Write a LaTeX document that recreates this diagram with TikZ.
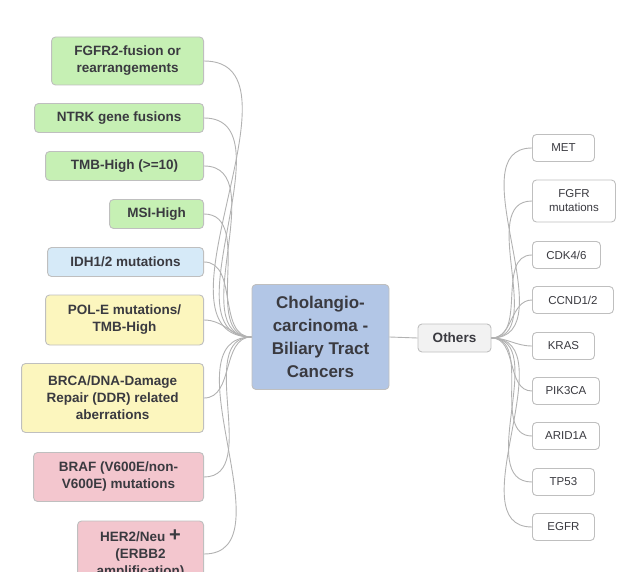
\documentclass[tikz,border=0pt]{standalone}
\usepackage{fontspec}
\setmainfont{Liberation Sans}
\definecolor{gr}{HTML}{C6F0B4}
\definecolor{bl}{HTML}{D6EAF8}
\definecolor{ye}{HTML}{FCF6BE}
\definecolor{pk}{HTML}{F3C6CE}
\definecolor{ce}{HTML}{B2C6E6}
\definecolor{tx}{HTML}{3A3A40}
\begin{document}
\begin{tikzpicture}[x=1pt,y=-1pt,
 box/.style={draw=black!25,line width=0.9pt,rounded corners=4pt,align=center,font=\fontsize{13.5}{17}\selectfont\bfseries\color{tx},inner sep=0pt},
 L/.style={box,anchor=east,minimum height=29pt},
 R/.style={box,anchor=west,fill=white,font=\fontsize{11.5}{14}\selectfont\color{tx},minimum height=27pt},
 con/.style={draw=black!30,line width=0.9pt}]
\useasboundingbox (0,0) rectangle (640,572);
\clip (0,0) rectangle (640,572);
\node[box,fill=ce,minimum width=137pt,minimum height=105pt,font=\fontsize{17}{23}\selectfont\bfseries\color{tx}] (c) at (320.5,337) {Cholangio-\\carcinoma -\\Biliary Tract\\Cancers};
\node[box,fill=gray!10,minimum width=73pt,minimum height=28pt] (o) at (454.5,338) {Others};
\node[L,fill=gr,minimum width=152pt,minimum height=48pt] (l1) at (204,61) {FGFR2-fusion or\\rearrangements};
\node[L,fill=gr,minimum width=169pt] (l2) at (204,118) {NTRK gene fusions};
\node[L,fill=gr,minimum width=158pt] (l3) at (204,166) {TMB-High (>=10)};
\node[L,fill=gr,minimum width=94pt] (l4) at (204,214) {MSI-High};
\node[L,fill=bl,minimum width=156pt] (l5) at (204,262) {IDH1/2 mutations};
\node[L,fill=ye,minimum width=158pt,minimum height=50pt] (l6) at (204,320) {POL-E mutations/\\TMB-High};
\node[L,fill=ye,minimum width=182pt,minimum height=69pt] (l7) at (204,398) {BRCA/DNA-Damage\\Repair (DDR) related\\aberrations};
\node[L,fill=pk,minimum width=170pt,minimum height=49pt] (l8) at (204,477) {BRAF (V600E/non-\\V600E) mutations};
\node[L,fill=pk,minimum width=126pt,minimum height=66pt] (l9) at (204,554) {HER2/Neu {\fontsize{20}{15}\selectfont\textbf{+}}\\(ERBB2\\amplification)};
\foreach \n in {l1,l2,l3,l4,l5,l6,l7,l8,l9}
 \draw[con] (c.west) to[out=180,in=0] (\n.east);
\node[R,minimum width=62pt] (r1) at (532,148) {MET};
\node[R,minimum width=83pt,minimum height=42pt] (r2) at (532,201) {FGFR\\mutations};
\node[R,minimum width=68pt] (r3) at (532,255) {CDK4/6};
\node[R,minimum width=81pt] (r4) at (532,300) {CCND1/2};
\node[R,minimum width=62pt] (r5) at (532,346) {KRAS};
\node[R,minimum width=67pt] (r6) at (532,391) {PIK3CA};
\node[R,minimum width=67pt] (r7) at (532,436) {ARID1A};
\node[R,minimum width=62pt] (r8) at (532,482) {TP53};
\node[R,minimum width=62pt] (r9) at (532,527) {EGFR};
\draw[con] (c.east) -- (o.west);
\foreach \n in {r1,r2,r3,r4,r5,r6,r7,r8,r9}
 \draw[con] (o.east) to[out=0,in=180] (\n.west);
\end{tikzpicture}
\end{document}
